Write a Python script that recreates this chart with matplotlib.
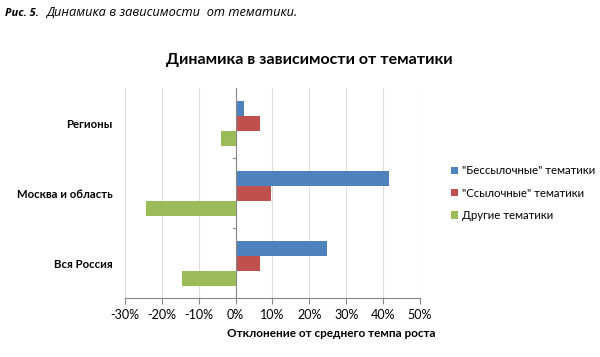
import numpy as np
import matplotlib.pyplot as plt
from matplotlib.ticker import FuncFormatter

plt.rcParams['font.family'] = ['Lato', 'DejaVu Sans']

categories = ["Регионы", "Москва и область", "Вся Россия"]
series_names = ['"Бессылочные" тематики', '"Ссылочные" тематики', 'Другие тематики']
no_link = [2.2, 41.6, 24.9]
link = [6.6, 9.7, 6.5]
other = [-3.9, -24.4, -14.6]
colors = ['#4F81BD', '#C0504D', '#9BBB59']

fig = plt.figure(figsize=(6, 3.57), dpi=100)
ax = fig.add_axes([0.2083, 0.165, 0.4917, 0.588])

ypos = np.array([2, 1, 0])
h = 0.215
for i, (vals, name, c) in enumerate(zip([no_link, link, other], series_names, colors)):
    ax.barh(ypos + h - i * h, vals, height=h, color=c, label=name, zorder=3)

ax.set_xlim(-30, 50)
ax.set_ylim(-0.5, 2.5)
ax.set_xticks(np.arange(-30, 51, 10))
ax.xaxis.set_major_formatter(FuncFormatter(lambda v, p: f"{v:.0f}%"))
ax.grid(axis='x', color='#DDDDDD', linewidth=0.8, zorder=0)
ax.set_yticks(ypos)
ax.set_yticklabels(categories, fontsize=8.2, fontweight='bold')
ax.tick_params(axis='y', length=0, pad=9)
ax.tick_params(axis='x', length=4, color='#868686', labelsize=9, pad=4)
for s in ['top', 'right', 'left']:
    ax.spines[s].set_visible(False)
ax.spines['bottom'].set_color('#868686')

# vertical axis at zero with minor tick marks between categories
ax.axvline(0, color='#868686', linewidth=0.8, zorder=4)
for yb in [0.5, 1.5]:
    ax.plot([-0.8, 0], [yb, yb], color='#868686', linewidth=0.8, zorder=4)

fig.text(0.008, 0.955, "Рис. 5.", fontsize=8, fontweight='bold', style='italic', family='Open Sans')
fig.text(0.077, 0.955, "Динамика в зависимости  от тематики.", fontsize=9.2, style='italic',
         family='Open Sans')
fig.text(0.515, 0.822, "Динамика в зависимости от тематики", fontsize=11.5, fontweight='bold', ha='center')
fig.text(0.552, 0.055, "Отклонение от среднего темпа роста", fontsize=8.5, fontweight='bold', ha='center')

ax.legend(loc='center left', bbox_to_anchor=(1.07, 0.5), frameon=False, fontsize=8.2,
          handlelength=0.6, handleheight=0.6, handletextpad=0.4, labelspacing=1.0)

fig.savefig("out.png", dpi=100)
